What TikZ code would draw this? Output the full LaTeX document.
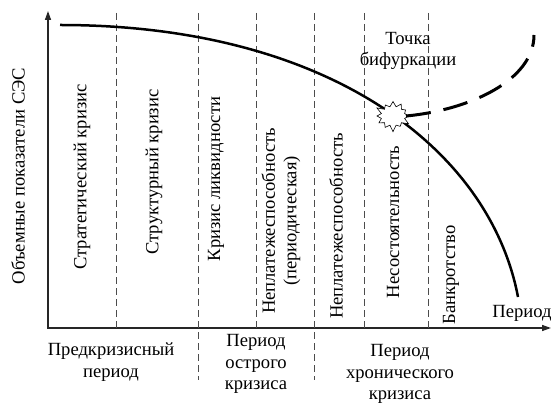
\documentclass[tikz,border=0pt]{standalone}
\usepackage{fontspec}
\setmainfont{Liberation Serif}
\usetikzlibrary{arrows.meta,shapes.symbols}
\begin{document}
\begin{tikzpicture}[x=1pt,y=-1pt,
 axis/.style={line width=1.4pt, draw=black!85, {Triangle[length=9pt,width=6pt]}-{Triangle[length=9pt,width=6pt]}},
 sep/.style={draw=black!70, line width=0.9pt, dash pattern=on 7pt off 4pt},
 lbl/.style={font=\fontsize{18.6}{21.5}\selectfont, inner sep=0pt, align=center},
 vlbl/.style={lbl, rotate=90},
 main/.style={line width=2.5pt},
 branch/.style={line width=3pt, dash pattern=on 25pt off 13pt},
 burst/.style={starburst, draw, fill=white, line width=0.6pt, minimum width=38pt, minimum height=33pt, starburst points=12, starburst point height=7pt, inner sep=0pt},
]
\useasboundingbox (0,0) rectangle (551,403);
% axes
\coordinate (Ytop) at (48,11);
\coordinate (O) at (48,328);
\coordinate (Xend) at (551,328);
\draw[axis] (Ytop) -- (O) -- (Xend);
% separators
\coordinate (s1t) at (116,13); \coordinate (s1b) at (116,328);
\coordinate (s2t) at (198,13); \coordinate (s2b) at (198,380);
\coordinate (s3t) at (256,13); \coordinate (s3b) at (256,328);
\coordinate (s4t) at (314,13); \coordinate (s4b) at (314,380);
\coordinate (s5t) at (364,13); \coordinate (s5b) at (364,328);
\coordinate (s6t) at (428,13); \coordinate (s6b) at (428,328);
\foreach \i in {1,...,6} \draw[sep] (s\i t) -- (s\i b);
% main curve
\coordinate (c0) at (60,25);
\coordinate (c1) at (330,25);
\coordinate (c2) at (490,150);
\coordinate (c3) at (518,297);
\draw[main] (c0) .. controls (c1) and (c2) .. (c3);
% bifurcation point
\node[burst] (bif) at (393,116) {};
\coordinate (b0) at (406,116);
\coordinate (b1) at (470,110);
\coordinate (b2) at (534,80);
\coordinate (b3) at (534,35);
\draw[branch] (b0) .. controls (b1) and (b2) .. (b3);
% texts
\node[vlbl] (ylab) at (18,176) {Объемные показатели СЭС};
\node[vlbl] (t1) at (82,177) {Стратегический кризис};
\node[vlbl] (t2) at (154,172) {Структурный кризис};
\node[vlbl] (t3) at (216,179) {Кризис ликвидности};
\node[vlbl] (t4) at (281,221) {Неплатежеспособность\\(периодическая)};
\node[vlbl] (t5) at (336,226) {Неплатежеспособность};
\node[vlbl] (t6) at (393,222) {Несостоятельность};
\node[vlbl] (t7) at (451,275) {Банкротство};
\node[lbl] (tb) at (408,51) {Точка\\бифуркации};
\node[lbl] (per) at (522,313) {Период};
\node[lbl] (p1) at (111,362) {Предкризисный\\период};
\node[lbl] (p2) at (256,364) {Период\\острого\\кризиса};
\node[lbl] (p3) at (400,374) {Период\\хронического\\кризиса};
\end{tikzpicture}
\end{document}
